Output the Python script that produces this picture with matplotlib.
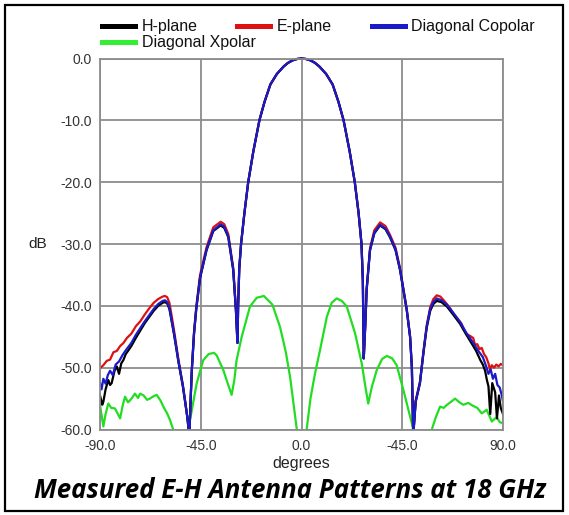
import matplotlib
matplotlib.use("Agg")
import matplotlib.pyplot as plt
from matplotlib.patches import Rectangle

plt.rcParams['font.family'] = ['Liberation Sans', 'DejaVu Sans']

# ---- measured pattern data (angle in degrees, level in dB) ----
# main beam, shared by the three co-polar cuts
beam_deg = [-28.3, -27.8, -27.0, -25.5, -23.8, -21.5, -18.8, -16.5, -13.9, -11, -8, -6, -4, -2, 0,
            2, 4, 6, 8, 11, 13.9, 16.5, 18.8, 21.5, 23.8, 25.5, 26.8, 27.4]
beam_db = [-40, -34, -30, -25, -20, -15, -10, -7, -4.2, -2.5, -1.3, -0.7, -0.3, -0.08, 0,
           -0.08, -0.3, -0.7, -1.3, -2.5, -4.2, -7, -10, -15, -20, -25, -30, -36]

h_left_deg = [-90, -89, -88.5, -87.5, -86.3, -85.5, -84.8, -83.5, -82.5, -81.5, -80.5, -79.6,
              -78.5, -77.5, -76, -74, -72, -70, -68, -66, -64, -62, -61, -60, -59, -58,
              -57, -56, -55, -54, -53, -52, -51, -50.1,
              -49.5, -49, -48, -47, -45.3, -42.4, -39.4, -36.1, -34.5, -32.7, -30.5, -29.3, -28.6]
h_left_db = [-54.5, -56, -55.5, -53.5, -52, -52.8, -52.5, -50.5, -49.8, -51, -49.3, -48.8,
             -47.8, -47.3, -46.5, -45.2, -44.0, -42.8, -41.8, -40.8, -40.0, -39.5, -39.4, -39.6, -40.5, -42.5,
             -44.5, -46.7, -49, -51, -53, -55.5, -58, -61,
             -55, -50.5, -44.5, -40.5, -35.5, -31, -27.9, -27.0, -27.4, -28.9, -34.2, -40.7, -46]
h_right_deg = [27.8, 28.5, 29.1, 30.6, 32.5, 35.1, 37.5, 39.5, 42, 44, 47, 48.5, 49.3, 49.9,
               51, 52.9, 54.5, 55.9, 57.5, 58.9, 60.4, 62.5, 64.9, 67.5, 70.8, 73.5, 76.7, 78,
               79.9, 81, 82, 82.8, 83.5, 84.3, 85.2, 86.5, 87.3, 88.2, 89, 90]
h_right_db = [-48.5, -43, -37.4, -31, -28.3, -27.0, -27.6, -28.9, -31, -34.2, -40.7, -45, -50, -61,
              -55.5, -52.5, -47.5, -43.6, -40.8, -39.7, -39.2, -39.4, -40.1, -41.3, -42.9, -44.6, -46.5, -47.3,
              -48.8, -49.5, -50.5, -52, -53, -57.5, -52.5, -54, -58.2, -54.5, -56.5, -57.5]

e_left_deg = [-90, -88.5, -87, -85.5, -84, -82.5, -81, -79.5, -78, -76, -74, -72, -70, -68,
              -66, -64, -62, -61, -60, -59, -58, -57, -56, -55, -54, -53, -52, -51, -50.1,
              -49.5, -49, -48, -47, -45.3, -42.4, -39.4, -36.1, -34.5, -32.7, -30.5, -29.3, -28.6]
e_left_db = [-50.1, -49.6, -48.9, -48.7, -47.5, -47.3, -46.5, -46.0, -45.2, -44.5, -43.3, -42.5, -41.4, -40.4,
             -39.5, -38.9, -38.5, -38.4, -38.6, -39.5, -41.6, -43.8, -46.2, -48.6, -50.7, -52.8, -55.3, -58, -61,
             -55, -50.3, -44.2, -40.1, -35.0, -30.5, -27.3, -26.4, -26.8, -28.4, -33.9, -40.5, -46]
e_right_deg = [27.8, 28.5, 29.1, 30.6, 32.5, 35.1, 37.5, 39.5, 42, 44, 47, 48.5, 49.3, 49.9,
               51, 52.9, 54.5, 55.9, 57.5, 58.9, 60.4, 62, 64, 66, 68, 70, 71.5, 72.5, 73.8, 75,
               76.7, 77.5, 78.5, 79.5, 80.5, 81.5, 82.5, 83.5, 84.2, 85, 86, 87, 88, 89, 90]
e_right_db = [-48.5, -43, -37.2, -30.7, -27.8, -26.5, -27.1, -28.5, -30.6, -33.9, -40.5, -45, -50, -61,
              -55.3, -52.3, -47.3, -43.2, -40.2, -38.9, -38.3, -38.5, -39.3, -40.2, -41.3, -42.2, -42.9, -43.8, -44.6, -44.8,
              -45.2, -46.3, -46.2, -47.0, -46.8, -47.8, -48.3, -49.3, -50.3, -49.6, -50.0, -49.5, -49.8, -49.4, -49.6]

d_left_deg = [-90, -89.3, -88.5, -87.5, -86.5, -85.5, -84.3, -83, -81.5, -80, -78.5, -76, -74,
              -72, -70, -68, -66, -64, -62, -61, -60, -59, -58, -57, -56, -55, -54, -53, -52, -51, -50.1,
              -49.5, -49, -48, -47, -45.3, -42.4, -39.4, -36.1, -34.5, -32.7, -30.5, -29.3, -28.6]
d_left_db = [-52.5, -53.5, -51.8, -52.6, -51.2, -50.5, -51.2, -49.5, -49.0, -48.0, -47.2, -46.0, -44.7,
             -43.6, -42.5, -41.5, -40.5, -39.7, -39.2, -39.1, -39.4, -40.3, -42.3, -44.3, -46.6, -48.9, -50.9, -52.9, -55.4, -58, -61,
             -55, -50.5, -44.5, -40.5, -35.4, -30.9, -27.8, -26.8, -27.2, -28.8, -34.1, -40.6, -46]
d_right_deg = [27.8, 28.5, 29.1, 30.6, 32.5, 35.1, 37.5, 39.5, 42, 44, 47, 48.5, 49.3, 49.9,
               51, 52.9, 54.5, 55.9, 57.5, 58.9, 60.4, 62.5, 64.9, 67.5, 70.8, 73.5, 76.7,
               79, 81, 82.5, 83.5, 84.5, 85.5, 86.5, 87.5, 88.5, 89.5, 90]
d_right_db = [-48.5, -43, -37.4, -31, -28.2, -26.9, -27.5, -28.8, -30.9, -34.1, -40.6, -45, -50, -61,
              -55.5, -52.5, -47.4, -43.4, -40.5, -39.4, -38.8, -39.1, -39.8, -41.0, -42.6, -44.3, -46.0,
              -47.3, -48.3, -49.8, -51.0, -50.3, -51.8, -51.0, -52.8, -53.2, -54.5, -55.5]

x_deg = [-90, -88.5, -87.5, -86.3, -85, -83.3, -82, -81, -79.8, -78.8, -77.5, -76.6, -75.5,
         -74.4, -73, -72.1, -70.5, -69, -67.7, -66, -64.7, -63, -61.7, -60, -58.7, -57.3, -56, -54,
         -52, -50.6, -49, -46.8, -43.9, -41.5, -39.1, -37.9, -34.9, -33, -31.2, -30, -29, -26.7,
         -23, -20, -16.8, -13, -9.6, -7, -5.1, -3.5, -2.1, -0.5, 0, 0.5, 2.3, 4, 6, 8.3, 11.3,
         13.5, 15.7, 18, 20.2, 23.9, 26.9, 28.5, 29.8, 31.5, 33.6, 36, 38.1, 40.5, 42.5, 45.5,
         48.5, 50, 52, 54, 56, 58.2, 60, 61.9, 63.5, 65, 66.5, 68.6, 70.5, 72.3, 74.5, 76.7,
         78.5, 80.5, 82.7, 85, 87.2, 88.5, 90]
x_db = [-56, -59.5, -57.5, -55.8, -56.5, -56.6, -57.5, -58.2, -56, -54.7, -55.6, -55.3, -54.8,
        -54.2, -54.9, -54.2, -54.5, -55.2, -55, -54.6, -54.4, -55.3, -56.3, -57.4, -58.5, -60, -61.5, -64,
        -62, -60, -56.9, -52.5, -48.8, -47.8, -47.6, -48, -50.4, -52.5, -54.4, -52, -48.8, -45,
        -40.1, -38.7, -38.4, -39.8, -43.4, -47.5, -51.5, -56, -60, -66, -68, -66, -60, -55, -51, -47.1, -41.8,
        -39.5, -38.8, -39.2, -40.1, -44.4, -49.3, -53, -55.8, -53, -50.4, -48.6, -48.1, -48.5, -49.6, -53.6,
        -57.9, -60, -62, -64, -62, -60, -58, -56.3, -56.5, -56, -55.6, -55, -55.6, -56, -55.7, -56.2,
        -56.5, -57.4, -56.8, -58.7, -58, -58.8, -59]

series = [
    ("E-plane", e_left_deg, e_left_db, e_right_deg, e_right_db, "#dd1111"),
    ("H-plane", h_left_deg, h_left_db, h_right_deg, h_right_db, "#000000"),
    ("Diagonal Copolar", d_left_deg, d_left_db, d_right_deg, d_right_db, "#1a1ac8"),
]
xpol_color = "#22dd22"

x_ticks = [-90, -45, 0, 45, 90]
x_tick_labels = ["-90.0", "-45.0", "0.0", "-45.0", "90.0"]
y_ticks = [0, -10, -20, -30, -40, -50, -60]
y_tick_labels = ["0.0", "-10.0", "-20.0", "-30.0", "-40.0", "-50.0", "-60.0"]

W, H = 569, 515
fig = plt.figure(figsize=(W / 100, H / 100), dpi=100)
fig.patch.set_facecolor("white")


def fx(px):
    return px / W


def fy(py):
    return 1 - py / H


ax = fig.add_axes([fx(100), fy(429.5), fx(503) - fx(100), fy(58.5) - fy(429.5)])
ax.set_xlim(-90, 90)
ax.set_ylim(-60, 0)
ax.set_xticks(x_ticks)
ax.set_xticklabels(x_tick_labels)
ax.set_yticks(y_ticks)
ax.set_yticklabels(y_tick_labels)
ax.tick_params(length=0, labelsize=10, labelcolor="#333333")
ax.tick_params(axis="x", pad=7)
ax.tick_params(axis="y", pad=6)
ax.grid(True, color="#8c8c8c", linewidth=1.3)
ax.set_axisbelow(True)
for sp in ax.spines.values():
    sp.set_color("#8c8c8c")
    sp.set_linewidth(1.3)

# clip region reaches a little above the 0 dB line so the peak stays visible
clip = Rectangle((0, 0), 1, 1.02, transform=ax.transAxes, facecolor="none", edgecolor="none")
ax.add_patch(clip)

ln, = ax.plot(x_deg, x_db, color=xpol_color, linewidth=1.6)
ln.set_clip_path(clip)
for name, ld, lv, rd, rv, col in series:
    ln, = ax.plot(ld + beam_deg + rd, lv + beam_db + rv, color=col, linewidth=1.6)
    ln.set_clip_path(clip)

# legend swatches and labels
legend_items = [
    ("H-plane", "#000000", 100, 26.5),
    ("E-plane", "#dd1111", 235, 26.5),
    ("Diagonal Copolar", "#1a1ac8", 369.5, 26.5),
    ("Diagonal Xpolar", "#33ee33", 100, 42.5),
]
for label, col, x0, yc in legend_items:
    fig.add_artist(Rectangle((fx(x0), fy(yc + 2.6)), fx(38), 5.2 / H,
                             transform=fig.transFigure, facecolor=col, edgecolor="none"))
    fig.text(fx(x0 + 41.5), fy(yc), label, fontsize=11.5, ha="left", va="center",
             color="#111111")

fig.text(fx(38), fy(244), "dB", fontsize=11, ha="center", va="center", color="#222222")
fig.text(fx(301), fy(463.5), "degrees", fontsize=11.5, ha="center", va="center",
         color="#222222")

title = fig.text(fx(290), fy(491), "Measured E-H Antenna Patterns at 18 GHz",
                 fontsize=20, ha="center", va="center", color="black",
                 family=["Open Sans", "DejaVu Sans"], fontweight="bold", fontstyle="italic")
fig.canvas.draw()
bb = title.get_window_extent()
title.set_fontsize(20 * 512 / bb.width)

# outer frame
fig.add_artist(Rectangle((fx(5), fy(511)), fx(563) - fx(5), fy(5) - fy(511),
                         transform=fig.transFigure, facecolor="none",
                         edgecolor="black", linewidth=1.6))

fig.savefig("out.png", dpi=100)
